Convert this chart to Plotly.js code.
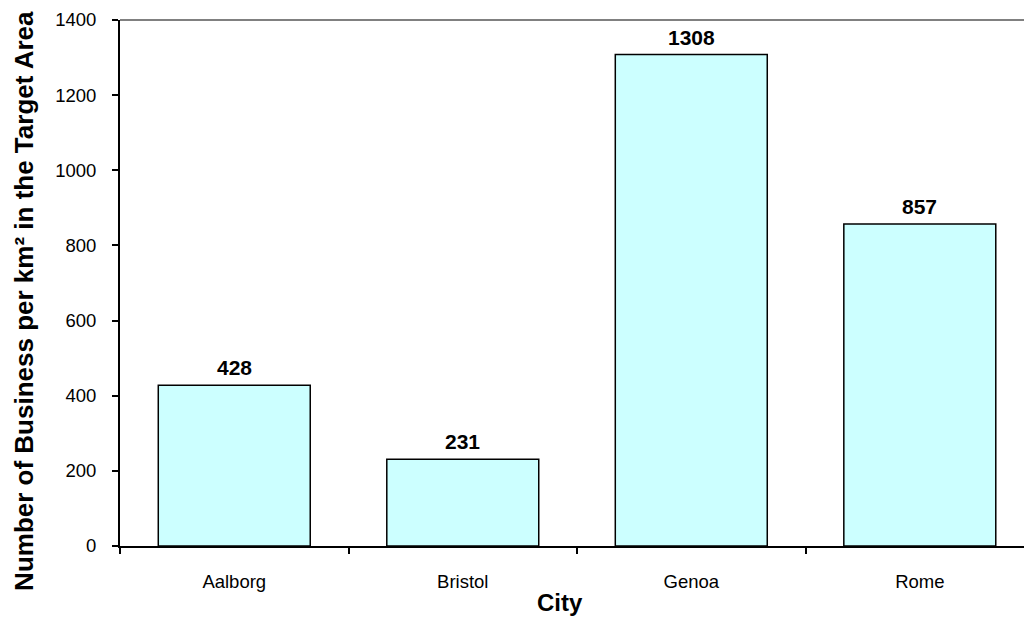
<!DOCTYPE html>
<html>
<head>
<meta charset="utf-8">
<script src="https://cdn.plot.ly/plotly-3.0.1.min.js"></script>
<style>
  html, body { margin: 0; padding: 0; background: #ffffff; }
  #chart { width: 1024px; height: 617px; }
</style>
</head>
<body>
<div id="chart"></div>
<script>
// Business density in the target area of each city
const cities = ["Aalborg", "Bristol", "Genoa", "Rome"];
const businessPerKm2 = [428, 231, 1308, 857];
const yTickValues = [0, 200, 400, 600, 800, 1000, 1200, 1400];
const xTitle = "City";
const yTitle = "Number of Business per km² in the Target Area";

const FONT = "Liberation Sans, Arial, Helvetica, sans-serif";

const bars = {
  type: "bar",
  x: cities,
  y: businessPerKm2,
  width: 0.665,
  marker: {
    color: "#CCFFFF",
    line: { color: "#000000", width: 1.5 }
  },
  hoverinfo: "x+y"
};

// value labels above each bar
const valueLabels = cities.map((c, i) => ({
  x: c,
  y: businessPerKm2[i],
  xref: "x",
  yref: "y",
  text: "<b>" + businessPerKm2[i] + "</b>",
  showarrow: false,
  yanchor: "bottom",
  yshift: 4,
  font: { family: FONT, size: 21, color: "#000000" }
}));

// axis titles, centred on the whole chart area
const axisTitles = [
  {
    xref: "paper", yref: "paper",
    x: (560 - 120) / 904, y: -0.108,
    xanchor: "center", yanchor: "middle",
    text: "<b>" + xTitle + "</b>",
    showarrow: false,
    font: { family: FONT, size: 24, color: "#000000" }
  },
  {
    xref: "paper", yref: "paper",
    x: (24 - 120) / 904, y: 0.466,
    xanchor: "center", yanchor: "middle",
    textangle: -90,
    text: "<b>" + yTitle + "</b>",
    showarrow: false,
    font: { family: FONT, size: 26, color: "#000000" }
  }
];

const layout = {
  width: 1024,
  height: 617,
  margin: { l: 120, r: 0, t: 20, b: 71 },
  paper_bgcolor: "#ffffff",
  plot_bgcolor: "#ffffff",
  showlegend: false,
  font: { family: FONT, color: "#000000" },
  xaxis: {
    type: "category",
    range: [-0.5, 3.456],
    autorange: false,
    showgrid: false,
    zeroline: false,
    showline: true,
    linecolor: "#000000",
    linewidth: 2,
    ticks: "outside",
    tickson: "boundaries",
    ticklen: 6,
    tickwidth: 2,
    tickcolor: "#000000",
    ticklabelstandoff: 18,
    tickfont: { family: FONT, size: 18.5, color: "#000000" }
  },
  yaxis: {
    range: [0, 1400],
    autorange: false,
    tickvals: yTickValues,
    ticktext: yTickValues.map(String),
    showgrid: false,
    zeroline: false,
    showline: true,
    linecolor: "#000000",
    linewidth: 2,
    ticks: "outside",
    ticklen: 6,
    tickwidth: 2,
    tickcolor: "#000000",
    ticklabelstandoff: 12,
    tickfont: { family: FONT, size: 18.5, color: "#000000" }
  },
  shapes: [
    {
      type: "line",
      xref: "paper", yref: "paper",
      x0: 0, x1: 1, y0: 1, y1: 1,
      line: { color: "#808080", width: 2 }
    }
  ],
  annotations: valueLabels.concat(axisTitles)
};

Plotly.newPlot("chart", [bars], layout, { displayModeBar: false, staticPlot: true });
</script>
</body>
</html>
